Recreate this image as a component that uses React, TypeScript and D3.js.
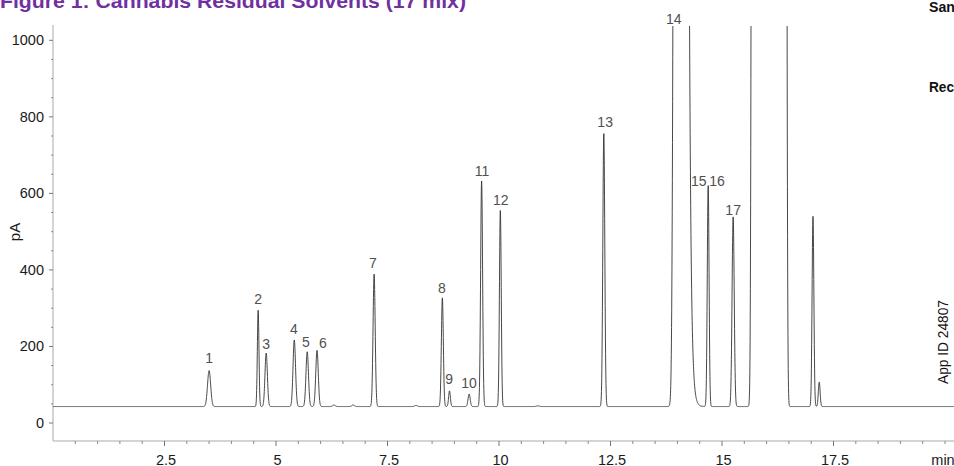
import React from "react";
import * as d3 from "d3";

const W = 954;
const H = 466;

const titleText = "Figure 1: Cannabis Residual Solvents (17 mix)";
const sideTexts = ["San", "Rec"];
const appIdText = "App ID 24807";
const yAxisTitle = "pA";
const xUnitLabel = "min";

const baselinePA = 43;

// retention time (min), apex value (pA), sigma (min), plateau half-width (min, saturated peaks), tail tau (min)
const peakTimes = [3.5, 4.6, 4.78, 5.41, 5.7, 5.92, 6.3, 6.73, 7.2, 8.14, 8.73, 8.89, 9.33, 9.61, 10.03, 10.87, 12.35, 14.09, 14.69, 15.25, 16.055, 17.04, 17.18];
const peakApex = [137, 295, 183, 217, 186, 190, 47, 47, 389, 46, 327, 84, 76, 633, 556, 45, 757, 3043, 621, 539, 5043, 540, 107];
const peakSigma = [0.035, 0.018, 0.027, 0.028, 0.028, 0.028, 0.03, 0.03, 0.024, 0.03, 0.022, 0.02, 0.024, 0.022, 0.02, 0.03, 0.022, 0.035, 0.02, 0.024, 0.025, 0.02, 0.02];
const peakPlateau = [0, 0, 0, 0, 0, 0, 0, 0, 0, 0, 0, 0, 0, 0, 0, 0, 0, 0.14, 0, 0, 0.36, 0, 0];
const peakTail = [0, 0, 0, 0, 0, 0, 0, 0, 0, 0, 0, 0, 0, 0, 0, 0, 0, 0.039, 0, 0, 0, 0, 0];

// peak number annotations: text, time (min), label baseline value (pA)
const labelTexts = ["1", "2", "3", "4", "5", "6", "7", "8", "9", "10", "11", "12", "13", "14", "15", "16", "17"];
const labelTimes = [3.5, 4.6, 4.78, 5.4, 5.67, 6.05, 7.17, 8.72, 8.88, 9.33, 9.62, 10.04, 12.38, 13.92, 14.48, 14.89, 15.25];
const labelValues = [157, 311, 193, 232, 198, 196, 405, 339, 102, 91, 645, 569, 773, 1042, 619, 619, 543];

const xMajorTicks = [2.5, 5, 7.5, 10, 12.5, 15, 17.5];
const xMajorLabels = ["2.5", "5", "7.5", "10", "12.5", "15", "17.5"];
const xUnitAt = 20;
const yMajorTicks = [0, 200, 400, 600, 800, 1000];
const yMajorLabels = ["0", "200", "400", "600", "800", "1000"];

const signal = (t: number) => {
  let v = baselinePA;
  for (let i = 0; i < peakTimes.length; i++) {
    const amp = peakApex[i] - baselinePA;
    const d = t - peakTimes[i];
    const p = peakPlateau[i];
    const s = peakSigma[i];
    const tau = peakTail[i];
    if (Math.abs(d) <= p) v += amp;
    else if (d < 0) {
      const e = -d - p;
      v += amp * Math.exp((-e * e) / (2 * s * s));
    } else {
      const e = d - p;
      v += tau > 0 ? amp * Math.exp(-e / tau) : amp * Math.exp((-e * e) / (2 * s * s));
    }
  }
  return v;
};

const FONT = "'Liberation Sans', Arial, Helvetica, sans-serif";
const NARROW = "'Liberation Sans Narrow', 'Liberation Sans', Arial, sans-serif";

export default function App() {
  const left = 53;
  const right = 954;
  const top = 25;
  const bottom = 441;
  const x = d3.scaleLinear().domain([0, 20.2]).range([left, left + 20.2 * 44.6]);
  const y = d3.scaleLinear().domain([-47, 1040]).range([bottom, top]);

  const times = d3.range(0, 20.2, 0.003);
  const pts: [number, number][] = times.map((t) => [t, signal(t)]);
  const line = d3
    .line<[number, number]>()
    .x((d) => x(d[0]))
    .y((d) => y(d[1]));

  const xMinor = d3.range(0.5, 20.01, 0.5).filter((t) => !xMajorTicks.some((m) => Math.abs(m - t) < 1e-6));
  const yMinor = d3.range(50, 1000, 50).filter((v) => v % 200 !== 0);

  return (
    <svg width={W} height={H} style={{ position: "absolute", left: 0, top: 0, background: "#fff" }}>
      <defs>
        <clipPath id="plotClip">
          <rect x={left} y={26} width={right - left} height={bottom - 26} />
        </clipPath>
      </defs>
      <rect x={0} y={0} width={W} height={H} fill="#fff" />

      <text x={0} y={8} fontFamily={FONT} fontWeight="bold" fontSize={21} fill="#7030a0" textLength={466} lengthAdjust="spacingAndGlyphs">
        {titleText}
      </text>
      <text x={929} y={12} fontFamily={NARROW} fontWeight="bold" fontSize={15} fill="#111" textLength={26} lengthAdjust="spacingAndGlyphs">
        {sideTexts[0]}
      </text>
      <text x={929} y={92} fontFamily={NARROW} fontWeight="bold" fontSize={15} fill="#111" textLength={25} lengthAdjust="spacingAndGlyphs">
        {sideTexts[1]}
      </text>
      <text
        transform={`translate(948,342) rotate(-90)`}
        textAnchor="middle"
        fontFamily={NARROW}
        fontSize={15}
        fill="#111"
        textLength={84}
        lengthAdjust="spacingAndGlyphs"
      >
        {appIdText}
      </text>

      {/* axes */}
      <line x1={left} x2={left} y1={top} y2={bottom} stroke="#c6c6c6" strokeWidth={1.5} />
      <line x1={left} x2={right} y1={bottom} y2={bottom} stroke="#c6c6c6" strokeWidth={1.5} />

      {yMajorTicks.map((v, i) => (
        <g key={"ym" + v}>
          <line x1={left - 4} x2={left} y1={y(v)} y2={y(v)} stroke="#777" strokeWidth={1} />
          <text x={44} y={y(v) + 5} textAnchor="end" fontFamily={FONT} fontSize={14.5} fill="#1a1a1a">
            {yMajorLabels[i]}
          </text>
        </g>
      ))}
      {yMinor.map((v) => (
        <line key={"yn" + v} x1={left - 2} x2={left} y1={y(v)} y2={y(v)} stroke="#888" strokeWidth={1} />
      ))}
      {xMajorTicks.map((t, i) => (
        <g key={"xm" + t}>
          <line x1={x(t)} x2={x(t)} y1={bottom} y2={bottom + 5} stroke="#777" strokeWidth={1} />
          <text x={x(t) + 1.5} y={465} textAnchor="middle" fontFamily={FONT} fontSize={14.5} fill="#1a1a1a">
            {xMajorLabels[i]}
          </text>
        </g>
      ))}
      {xMinor.map((t) => (
        <line key={"xn" + t} x1={x(t)} x2={x(t)} y1={bottom} y2={bottom + 3} stroke="#888" strokeWidth={1} />
      ))}
      <text x={x(xUnitAt) - 2} y={465} textAnchor="middle" fontFamily={FONT} fontSize={14.5} fill="#1a1a1a">
        {xUnitLabel}
      </text>
      <text transform={`translate(20,232) rotate(-90)`} textAnchor="middle" fontFamily={FONT} fontSize={15} fill="#1a1a1a">
        {yAxisTitle}
      </text>

      <g clipPath="url(#plotClip)">
        <path d={line(pts) || ""} fill="none" stroke="#333" strokeWidth={0.9} strokeLinejoin="round" />
      </g>

      {labelTexts.map((s, i) => (
        <text
          key={"pl" + s}
          x={x(labelTimes[i])}
          y={y(labelValues[i])}
          textAnchor="middle"
          fontFamily={FONT}
          fontSize={14}
          fill="#505050"
        >
          {s}
        </text>
      ))}
    </svg>
  );
}
